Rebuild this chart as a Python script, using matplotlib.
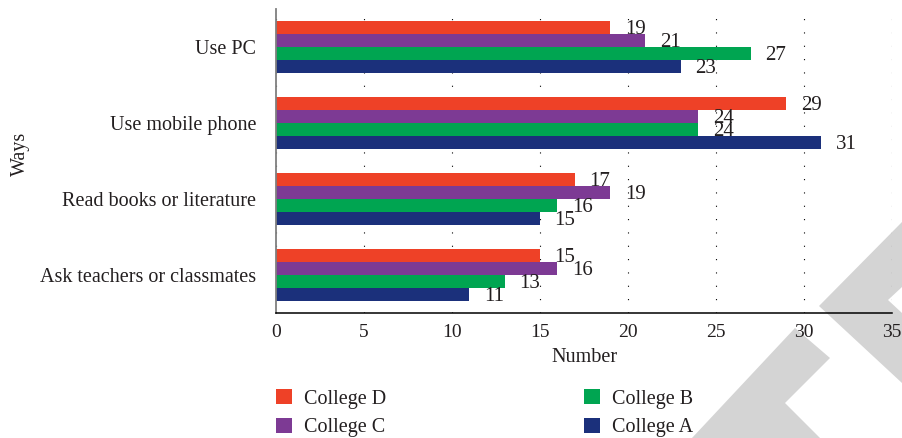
import matplotlib
matplotlib.use("Agg")
import matplotlib.pyplot as plt
from matplotlib.patches import Polygon, Patch
import numpy as np

# ---- data ----
categories = ["Use PC", "Use mobile phone", "Read books or literature", "Ask teachers or classmates"]
series_names = ["College D", "College C", "College B", "College A"]
college_d = [19, 29, 17, 15]
college_c = [21, 24, 19, 16]
college_b = [27, 24, 16, 13]
college_a = [23, 31, 15, 11]
x_ticks = [0, 5, 10, 15, 20, 25, 30, 35]

colors = ["#EE4127", "#7D3A94", "#00A551", "#1B307B"]
text_color = "#231f20"

plt.rcParams['font.family'] = ['Liberation Serif', 'DejaVu Serif']

W, H = 902, 438
fig = plt.figure(figsize=(W / 100, H / 100), dpi=100)

def fx(px):
    return px / W

def fy(py):
    return 1 - py / H

# watermark shapes (decorative background)
wm1 = [(902, 222), (819, 306), (902, 383), (902, 313), (888, 300), (902, 287)]
wm2 = [(692, 438), (795, 328), (830, 358), (785, 403), (820, 438)]
for poly in (wm1, wm2):
    fig.add_artist(Polygon([(fx(a), fy(b)) for a, b in poly], closed=True,
                           transform=fig.transFigure, facecolor="#d4d4d4",
                           edgecolor="none", zorder=-1))

ax = fig.add_axes([fx(275.7), fy(313), fx(891.7) - fx(275.7), (313 - 9) / H])
ax.set_facecolor("none")

y = np.arange(len(categories))
bh = 13 / 76
offsets = [-1.5, -0.5, 0.5, 1.5]
series = [college_d, college_c, college_b, college_a]
for vals, name, color, off in zip(series, series_names, colors, offsets):
    bars = ax.barh(y + off * bh, vals, height=bh, color=color, label=name, zorder=2)
    for b, v in zip(bars, vals):
        ax.annotate(str(v), (v, b.get_y() + b.get_height() / 2), xytext=(10.5, -1.5),
                    textcoords="offset points", ha="left", va="center",
                    fontsize=15, color=text_color, zorder=3)

ax.set_ylim(3.5, -0.5)
ax.set_xlim(0, 35)
ax.set_xticks(x_ticks)
ax.set_yticks(y, categories)
ax.tick_params(axis="both", length=0, colors=text_color)
ax.tick_params(axis="x", pad=8, labelsize=14)
ax.tick_params(axis="y", pad=14, labelsize=14.5)
ax.xaxis.grid(True, linestyle=(0, (1, 11)), color="black", linewidth=0.8)
ax.set_axisbelow(True)
for s in ("top", "right"):
    ax.spines[s].set_visible(False)
ax.spines["left"].set_color("#7f7f7f")
ax.spines["left"].set_linewidth(1.3)
ax.spines["bottom"].set_color("black")
ax.spines["bottom"].set_linewidth(1.1)

fig.text(fx(20), fy(154), "Ways", rotation=90, ha="center", va="center",
         fontsize=14.5, color=text_color)
fig.text(fx(585), fy(357), "Number", ha="center", va="center",
         fontsize=14.5, color=text_color)

handles = [Patch(facecolor=c, edgecolor="none") for c in colors]
leg_kw = dict(frameon=False, fontsize=14.5, handlelength=0.8, handleheight=0.8,
              handletextpad=0.6, labelspacing=0.45, borderpad=0, borderaxespad=0,
              loc="upper left", bbox_transform=fig.transFigure, labelcolor=text_color)
leg1 = ax.legend(handles[:2], series_names[:2], bbox_to_anchor=(fx(276), fy(389)), **leg_kw)
ax.add_artist(leg1)
leg2 = ax.legend(handles[2:], series_names[2:], bbox_to_anchor=(fx(584), fy(389)), **leg_kw)

fig.savefig("out.png", dpi=100)
